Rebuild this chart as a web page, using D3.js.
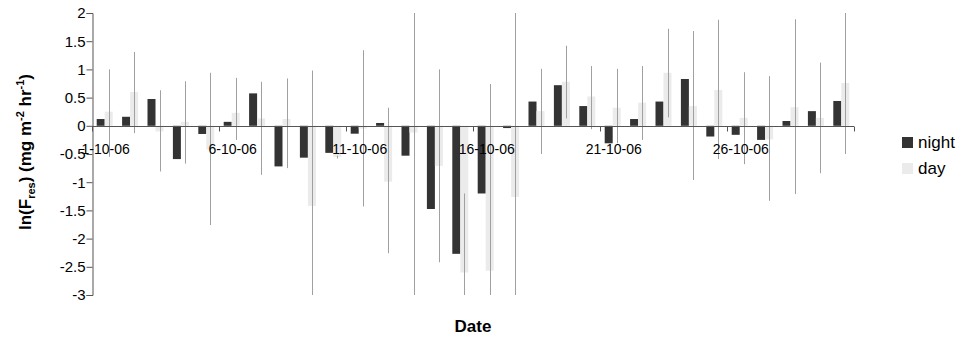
<!DOCTYPE html>
<html>
<head>
<meta charset="utf-8">
<script src="https://cdn.jsdelivr.net/npm/d3@7"></script>
<style>
  html, body { margin: 0; padding: 0; background: #fff; }
  svg { display: block; font-family: Arial, 'Liberation Sans', sans-serif; }
</style>
</head>
<body>
<svg id="chart" width="962" height="339"></svg>
<script>
const DATES = [
  '1-10-06', '2-10-06', '3-10-06', '4-10-06', '5-10-06', '6-10-06', '7-10-06', '8-10-06', '9-10-06', '10-10-06',
  '11-10-06', '12-10-06', '13-10-06', '14-10-06', '15-10-06', '16-10-06', '17-10-06', '18-10-06', '19-10-06', '20-10-06',
  '21-10-06', '22-10-06', '23-10-06', '24-10-06', '25-10-06', '26-10-06', '27-10-06', '28-10-06', '29-10-06', '30-10-06',
];
const DATE_LABELS = ['1-10-06', '6-10-06', '11-10-06', '16-10-06', '21-10-06', '26-10-06'];

const NIGHT = [
  0.12, 0.16, 0.475, -0.59, -0.145, 0.07, 0.575, -0.72, -0.565, -0.48,
  -0.14, 0.05, -0.53, -1.475, -2.27, -1.2, -0.04, 0.43, 0.72, 0.35,
  -0.31, 0.12, 0.43, 0.83, -0.19, -0.16, -0.25, 0.085, 0.26, 0.44,
];
const DAY = [
  0.25, 0.6, -0.1, 0.07, -0.42, 0.23, 0.13, 0.12, -1.42, -0.55,
  -0.05, -0.99, -0.12, -0.71, -2.6, -2.57, -1.26, 0.26, 0.78, 0.52,
  0.32, 0.41, 0.94, 0.35, 0.635, 0.14, -0.24, 0.33, 0.14, 0.76,
];
// day error bar ends (clipped at the plot edges where they run off)
const DAY_HI = [
  1.0, 1.31, 0.63, 0.79, 0.94, 0.85, 0.78, 0.84, 0.98, -0.53,
  1.34, 0.32, 2, 1.0, -1.2, 0.74, 2, 1.01, 1.42, 1.06,
  1.01, 1.06, 1.72, 1.68, 1.88, 0.95, 0.88, 1.89, 1.12, 2,
];
const DAY_LO = [
  -0.55, -0.13, -0.81, -0.67, -1.76, -0.25, -0.87, -0.75, -3, -0.58,
  -1.43, -2.26, -3, -2.42, -3, -3, -3, -0.5, 0.13, -0.06,
  -0.31, -0.25, 0.15, -0.96, -0.59, -0.68, -1.33, -1.21, -0.84, -0.5,
];
const Y_TICKS = [-3, -2.5, -2, -1.5, -1, -0.5, 0, 0.5, 1, 1.5, 2];

const SERIES = [
  { name: 'night', values: NIGHT, color: '#333333' },
  { name: 'day', values: DAY, color: '#ebebeb' },
];

const svg = d3.select('#chart');
const plotLeft = 92;
const plotRight = 854;
const plotTop = 13;
const plotBottom = 295;

const y = d3.scaleLinear().domain([-3, 2]).range([plotBottom, plotTop]);
const x = d3.scaleBand().domain(DATES).range([plotLeft, plotRight]).paddingInner(0.37).paddingOuter(0.185);
const xSub = d3.scaleBand().domain(SERIES.map((s) => s.name)).range([0, x.bandwidth()]);

const rows = DATES.map((d, i) => ({
  date: d,
  night: NIGHT[i],
  day: DAY[i],
  hi: DAY_HI[i],
  lo: DAY_LO[i],
}));

// bars
SERIES.forEach((s) => {
  svg
    .append('g')
    .selectAll('rect')
    .data(rows)
    .join('rect')
    .attr('x', (d) => x(d.date) + xSub(s.name))
    .attr('y', (d) => y(Math.max(0, d[s.name])))
    .attr('width', xSub.bandwidth())
    .attr('height', (d) => Math.abs(y(d[s.name]) - y(0)))
    .attr('fill', s.color);
});

// error bars on the day series
const errX = (d) => Math.round(x(d.date) + xSub('day') + xSub.bandwidth() / 2) + 0.5;
svg
  .append('g')
  .selectAll('line')
  .data(rows)
  .join('line')
  .attr('x1', errX)
  .attr('x2', errX)
  .attr('y1', (d) => y(d.hi))
  .attr('y2', (d) => y(d.lo))
  .attr('stroke', '#a0a0a0')
  .attr('stroke-width', 1);

// y axis
const yAxis = svg
  .append('g')
  .attr('transform', `translate(${plotLeft + 0.5},0)`)
  .call(d3.axisLeft(y).tickValues(Y_TICKS).tickSize(6).tickPadding(1).tickFormat((d) => String(d)));
yAxis.selectAll('path, line').attr('stroke', '#555');
yAxis.selectAll('text').attr('font-size', '15px').attr('fill', '#000').attr('font-family', 'Arial, Liberation Sans, sans-serif');

// x axis along zero
const zeroY = Math.round(y(0)) + 0.5;
const boundaries = DATES.filter((d, i) => i % 5 === 0).map((d) => x(d) - (x.step() * x.paddingInner()) / 2);
boundaries.push(plotRight);
const xAxis = svg.append('g');
xAxis
  .append('line')
  .attr('x1', plotLeft)
  .attr('x2', plotRight)
  .attr('y1', zeroY)
  .attr('y2', zeroY)
  .attr('stroke', '#555');
xAxis
  .selectAll('line.tick')
  .data(boundaries)
  .join('line')
  .attr('class', 'tick')
  .attr('x1', (d) => Math.round(d) + 0.5)
  .attr('x2', (d) => Math.round(d) + 0.5)
  .attr('y1', zeroY)
  .attr('y2', zeroY + 5)
  .attr('stroke', '#555');
xAxis
  .selectAll('text')
  .data(DATE_LABELS)
  .join('text')
  .attr('x', (d) => x(d) + x.bandwidth() / 2 + 1)
  .attr('y', y(0) + 28)
  .attr('text-anchor', 'middle')
  .attr('font-size', '14px')
  .text((d) => d);

// axis titles
svg
  .append('text')
  .attr('x', 473)
  .attr('y', 332)
  .attr('text-anchor', 'middle')
  .attr('font-size', '17px')
  .attr('font-weight', 'bold')
  .text('Date');

const yTitle = svg
  .append('text')
  .attr('transform', 'translate(31,152) rotate(-90)')
  .attr('text-anchor', 'middle')
  .attr('font-size', '17px')
  .attr('font-weight', 'bold');
yTitle.append('tspan').text('ln(F');
yTitle.append('tspan').attr('font-size', '11px').attr('dy', 4).text('res');
yTitle.append('tspan').attr('dy', -4).text(') (mg m');
yTitle.append('tspan').attr('font-size', '11px').attr('dy', -7).text('-2');
yTitle.append('tspan').attr('dy', 7).text(' hr');
yTitle.append('tspan').attr('font-size', '11px').attr('dy', -7).text('-1');
yTitle.append('tspan').attr('dy', 7).text(')');

// legend
const legend = svg
  .append('g')
  .selectAll('g')
  .data(SERIES)
  .join('g')
  .attr('transform', (d, i) => `translate(902,${137 + i * 26})`);
legend.append('rect').attr('width', 11).attr('height', 11).attr('fill', (d) => d.color);
legend
  .append('text')
  .attr('x', 16)
  .attr('y', 11)
  .attr('font-size', '17px')
  .text((d) => d.name);
</script>
</body>
</html>
